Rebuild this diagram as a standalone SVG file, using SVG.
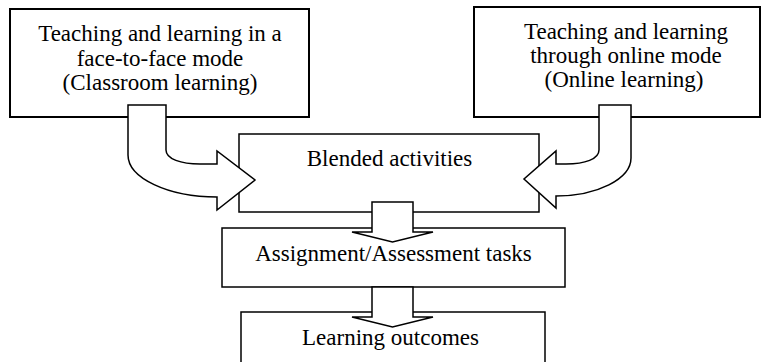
<svg xmlns="http://www.w3.org/2000/svg" width="763" height="362" viewBox="0 0 763 362">
<style>
.box{fill:#fff;stroke:#000;stroke-width:1.5}
.top{stroke-width:2}
.t{font-family:"Liberation Serif","Times New Roman",serif;font-size:23px;fill:#000;text-anchor:middle}
.arr{fill:#fff;stroke:#000;stroke-width:1.5;stroke-linejoin:miter}
</style>
<rect width="763" height="362" fill="#fff"/>
<g id="classroom">
<rect class="box top" x="10" y="9" width="299" height="108"/>
<text class="t" x="160" y="41">Teaching and learning in a</text>
<text class="t" x="160" y="65.5">face-to-face mode</text>
<text class="t" x="160" y="90">(Classroom learning)</text>
</g>
<g id="online">
<rect class="box top" x="474" y="7" width="286" height="110"/>
<text class="t" x="626" y="39">Teaching and learning</text>
<text class="t" x="626" y="63">through online mode</text>
<text class="t" x="624" y="87">(Online learning)</text>
</g>
<g id="blended">
<rect class="box" x="239" y="134" width="300" height="78"/>
<text class="t" x="389.5" y="166">Blended activities</text>
</g>
<g id="assignment">
<rect class="box" x="222" y="228" width="343" height="59"/>
<text class="t" x="393.5" y="261">Assignment/Assessment tasks</text>
</g>
<g id="outcomes">
<rect class="box" x="241" y="312" width="304" height="60"/>
<text class="t" x="390.5" y="345">Learning outcomes</text>
</g>
<g id="connectors">
<path class="arr" d="M128,105 H166 V150 C166,159 181,164 200,164 H217 V151 L255,180 L217,210 V197 C168,197 128,178 128,155 Z"/>
<path class="arr" d="M599,105 H631 V158 C631,179 597,196 556,196 V208 L524,179 L556,151 V164 H566 C585,164 599,159 599,150 Z"/>
<path class="arr" d="M372,202 H413 V232 H433 L392.5,242 L352,232 H372 Z"/>
<path class="arr" d="M372,287 H413 V317 H433 L392.5,327 L352,317 H372 Z"/>
</g>
</svg>
